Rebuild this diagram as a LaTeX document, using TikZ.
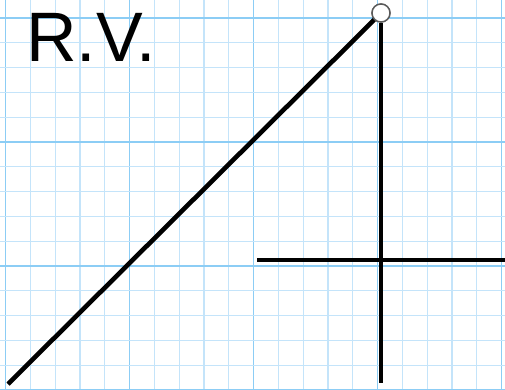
\documentclass[tikz,border=0pt]{standalone}
\usepackage{fontspec}
\setmainfont{Liberation Sans}
\definecolor{gridminor}{RGB}{196,228,250}
\definecolor{gridmajor}{RGB}{140,205,245}
\definecolor{ringgray}{RGB}{90,90,90}
\begin{document}
\begin{tikzpicture}[x=1pt,y=1pt,
  thickline/.style={line width=4.6pt,black},
  ring/.style={circle,draw=ringgray,line width=1.4pt,fill=white,minimum size=18pt,inner sep=0pt}]
\useasboundingbox (0,0) rectangle (505,389);
\fill[white] (0,0) rectangle (505,389);
% grid
\foreach \k in {0,...,20}{
  \pgfmathsetmacro{\xx}{5.5+24.8*\k}
  \pgfmathtruncatemacro{\mm}{mod(\k,5)}
  \ifnum\mm=0 \draw[gridmajor,line width=1.2pt] (\xx,0) -- (\xx,389);
  \else \draw[gridminor,line width=1.2pt] (\xx,0) -- (\xx,389); \fi
}
\foreach \k in {0,...,15}{
  \pgfmathsetmacro{\yy}{389-18-24.8*\k}
  \pgfmathtruncatemacro{\mm}{mod(\k,5)}
  \ifnum\mm=0 \draw[gridmajor,line width=1.2pt] (0,\yy) -- (505,\yy);
  \else \draw[gridminor,line width=1.2pt] (0,\yy) -- (505,\yy); \fi
}
% points
\coordinate (bl) at (8,5);
\coordinate (vbot) at (381,6);
\coordinate (hl) at (257,129);
\coordinate (hr) at (505,129);
\node[ring] (top) at (381,376) {};
% lines
\draw[thickline] (bl) -- (top);
\draw[thickline] (top) -- (vbot);
\draw[thickline] (hl) -- (hr);
\node[ring] at (top) {};
% label
\node[anchor=base west,inner sep=0pt,font=\fontsize{70}{70}\selectfont] (label) at (26,327) {R.V.};
\end{tikzpicture}
\end{document}
